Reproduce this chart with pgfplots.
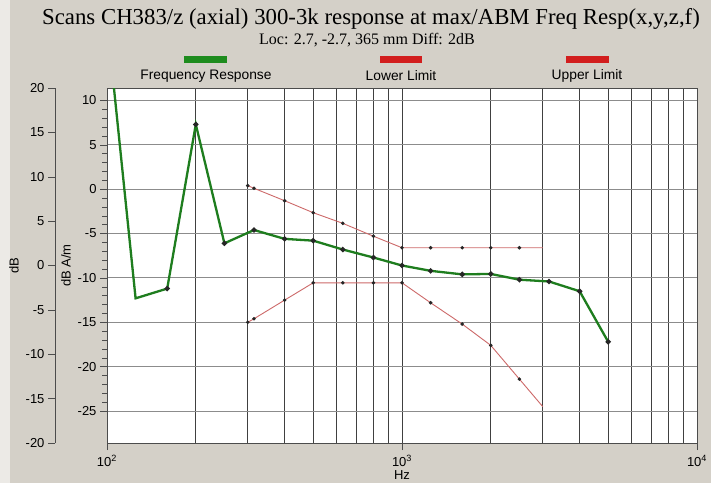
\documentclass[border=0pt]{standalone}
\usepackage{fontspec}
\setmainfont{Liberation Serif}
\setsansfont{Liberation Sans}
\usepackage{pgfplots}
\pgfplotsset{compat=1.18}
\definecolor{bg}{RGB}{212,208,200}
\definecolor{fr}{RGB}{30,125,30}
\definecolor{lim}{RGB}{205,105,105}
\definecolor{legred}{RGB}{210,30,30}
\definecolor{legreen}{RGB}{30,140,30}
\begin{document}
\begin{tikzpicture}[x=1pt,y=1pt]
\fill[bg] (0,0) rectangle (711,483);
\fill[white!55!bg] (0,0) rectangle (10,483);
\node[font=\fontsize{22.8}{22.8}\selectfont] at (371,464) {Scans CH383/z (axial) 300-3k response at max/ABM Freq Resp(x,y,z,f)};
\node[font=\fontsize{16}{16}\selectfont] at (367,443) {Loc: 2.7, -2.7, 365 mm Diff: 2dB};
\fill[legreen] (184,420) rectangle (227,427);
\fill[legred] (380,420) rectangle (422,427);
\fill[legred] (566,420) rectangle (609,427);
\node[font=\sffamily\fontsize{13.8}{13.8}\selectfont] at (206,407) {Frequency Response};
\node[font=\sffamily\fontsize{13.8}{13.8}\selectfont] at (401,407) {Lower Limit};
\node[font=\sffamily\fontsize{13.8}{13.8}\selectfont] at (587,407) {Upper Limit};
\begin{axis}[at={(55pt,40pt)}, anchor=south west, scale only axis,
  width=1pt, height=355pt, xmin=0, xmax=1, ymin=-20, ymax=20,
  hide x axis, axis y line*=left, ytick={-20,-15,...,20},
  tick align=outside, major tick length=7pt,
  every tick/.style={black!70}, axis line style={black!70},
  ticklabel style={font=\sffamily\fontsize{13}{13}\selectfont},
  /pgf/number format/assume math mode=true,
  ylabel={dB}, ylabel style={font=\sffamily\fontsize{13}{13}\selectfont}]
\addplot[draw=none] coordinates {(0,0)};
\end{axis}
\begin{axis}[at={(107pt,40pt)}, anchor=south west, scale only axis,
  width=590pt, height=355pt, xmode=log, xmin=100, xmax=10000,
  ymin=-28.6, ymax=11.4,
  axis background/.style={fill=white},
  xtick={100,1000,10000},
  xticklabels={10\textsuperscript{2},10\textsuperscript{3},10\textsuperscript{4}},
  ytick={-25,-20,...,10}, minor y tick num=4,
  xtick pos=bottom, ytick pos=left, tick align=outside,
  major tick length=7pt, minor tick length=5pt,
  every tick/.style={black!70},
  minor x tick style={draw=none},
  xmajorgrids, xminorgrids, ymajorgrids,
  major x grid style={black!75, line width=0.8pt},
  minor x grid style={black!75, line width=0.8pt},
  major y grid style={black!45, line width=1pt},
  axis line style={black!70},
  ticklabel style={font=\sffamily\fontsize{13}{13}\selectfont},
  xticklabel style={yshift=-2pt},
  /pgf/number format/assume math mode=true,
  ylabel={dB A/m}, ylabel style={font=\sffamily\fontsize{13}{13}\selectfont},
  xlabel={Hz}, xlabel style={font=\sffamily\fontsize{13}{13}\selectfont, yshift=3pt}]
\addplot[fr, line width=2.3pt, mark=*, mark size=1.3pt, mark options={black!85},
  mark indices={2,3,4,5,6,7,8,9,10,11,12,13,14,15,16,17,18}] coordinates {
  (100,19) (125,-12.3) (160,-11.2) (200,7.3) (250,-6.1) (315,-4.6)
  (400,-5.6) (500,-5.8) (630,-6.8) (800,-7.7) (1000,-8.6) (1250,-9.2)
  (1600,-9.6) (2000,-9.55) (2500,-10.2) (3150,-10.4) (4000,-11.5) (5000,-17.2)};
\addplot[lim, line width=0.9pt, mark=*, mark size=1.3pt, mark options={black!85},
  mark indices={1,2,3,4,5,6,7,8,9,10,11}] coordinates {
  (300,0.4) (315,0.1) (400,-1.3) (500,-2.65) (630,-3.85) (800,-5.3)
  (1000,-6.6) (1250,-6.6) (1600,-6.6) (2000,-6.6) (2500,-6.6) (3000,-6.6)};
\addplot[lim, line width=0.9pt, mark=*, mark size=1.3pt, mark options={black!85},
  mark indices={1,2,3,4,5,6,7,8,9,10,11}] coordinates {
  (300,-15.0) (315,-14.6) (400,-12.5) (500,-10.55) (630,-10.55) (800,-10.55)
  (1000,-10.55) (1250,-12.8) (1600,-15.2) (2000,-17.6) (2500,-21.4) (3000,-24.5)};
\end{axis}
\pgfresetboundingbox
\path[use as bounding box] (0,0) rectangle (711,483);
\end{tikzpicture}
\end{document}
